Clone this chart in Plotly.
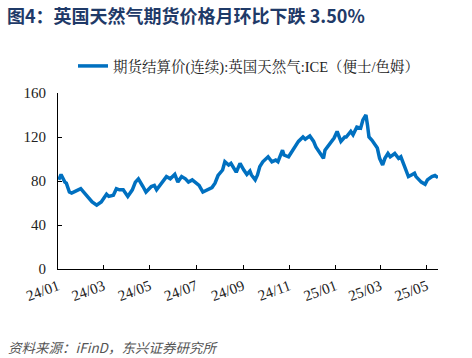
import plotly.graph_objects as go

dates = [
    "2024-01-02", "2024-01-05", "2024-01-10", "2024-01-12", "2024-01-16", "2024-01-19",
    "2024-01-25", "2024-01-31", "2024-02-05", "2024-02-09", "2024-02-15", "2024-02-21",
    "2024-02-27", "2024-03-05", "2024-03-08", "2024-03-14", "2024-03-18", "2024-03-22",
    "2024-03-27", "2024-04-02", "2024-04-08", "2024-04-12", "2024-04-16", "2024-04-22",
    "2024-04-26", "2024-05-03", "2024-05-07", "2024-05-10", "2024-05-17", "2024-05-23",
    "2024-05-28", "2024-06-03", "2024-06-07", "2024-06-12", "2024-06-17", "2024-06-21",
    "2024-06-26", "2024-07-02", "2024-07-05", "2024-07-10", "2024-07-16", "2024-07-22",
    "2024-07-26", "2024-07-30", "2024-08-05", "2024-08-08", "2024-08-13", "2024-08-16",
    "2024-08-23", "2024-08-28", "2024-09-02", "2024-09-06", "2024-09-10", "2024-09-12",
    "2024-09-17", "2024-09-20", "2024-09-23", "2024-09-27", "2024-10-04", "2024-10-09",
    "2024-10-14", "2024-10-17", "2024-10-23", "2024-10-25", "2024-10-31", "2024-11-06",
    "2024-11-13", "2024-11-19", "2024-11-22", "2024-11-28", "2024-12-03", "2024-12-06",
    "2024-12-12", "2024-12-16", "2024-12-18", "2024-12-24", "2024-12-30", "2025-01-03",
    "2025-01-08", "2025-01-13", "2025-01-15", "2025-01-21", "2025-01-24", "2025-01-29",
    "2025-02-03", "2025-02-06", "2025-02-10", "2025-02-12", "2025-02-14", "2025-02-18",
    "2025-02-21", "2025-02-25", "2025-02-28", "2025-03-04", "2025-03-07", "2025-03-11",
    "2025-03-14", "2025-03-20", "2025-03-25", "2025-03-28", "2025-04-02", "2025-04-07",
    "2025-04-11", "2025-04-15", "2025-04-17", "2025-04-24", "2025-04-29", "2025-05-02",
    "2025-05-08", "2025-05-12", "2025-05-16",
]
prices = [
    81, 86, 79, 78, 70, 69,
    71, 73, 69, 66, 61, 58,
    61, 68, 66, 67, 73, 72,
    72, 66, 72, 79, 82, 75,
    70, 75, 76, 72, 78, 84,
    82, 86, 79, 84, 82, 79,
    81, 78, 76, 70, 72, 74,
    78, 85, 90, 97.5, 94.5, 96,
    88, 96, 90, 86, 89, 85.5,
    81, 85.5, 93, 97.5, 102, 97.5,
    99, 97.5, 108, 103.6, 102, 108,
    116, 120, 118, 121, 116, 111,
    105, 100.6, 108, 114, 119, 125,
    116, 120, 120, 125, 122, 129,
    128, 135.5, 140, 131, 120, 117,
    114, 110, 100.6, 94.5, 100.6, 105,
    102, 105, 100.6, 102, 93, 84,
    85.5, 87, 84, 79, 77, 81,
    84, 85, 83,
]

tick_vals = ["2024-01-01", "2024-03-01", "2024-05-01", "2024-07-01", "2024-09-01",
             "2024-11-01", "2025-01-01", "2025-03-01", "2025-05-01"]
tick_text = ["24/01", "24/03", "24/05", "24/07", "24/09", "24/11", "25/01", "25/03", "25/05"]
y_ticks = [0, 40, 80, 120, 160]

series_name = "期货结算价(连续):英国天然气:ICE（便士/色姆）"
title_text = "图4：英国天然气期货价格月环比下跌 3.50%"
source_text = "资料来源：iFinD，东兴证券研究所"

W, H = 472, 358
L, R, T, B = 58, 34, 93, 89
pw = W - L - R
ph = H - T - B

serif = "Liberation Serif, 'Times New Roman', 'Noto Serif CJK SC', 'Noto Sans CJK SC', serif"

fig = go.Figure()
fig.add_trace(go.Scatter(
    x=dates, y=prices, mode="lines", name=series_name,
    line=dict(color="#0070C0", width=3.5),
))

fig.update_layout(
    width=W, height=H,
    margin=dict(l=L, r=R, t=T, b=B, pad=0),
    paper_bgcolor="white", plot_bgcolor="white",
    showlegend=True,
    legend=dict(
        orientation="h",
        x=(73 - L) / pw, xanchor="left",
        y=(H - B - 66) / ph, yanchor="middle",
        font=dict(family=serif, size=14.5, color="#222222"),
        bgcolor="rgba(0,0,0,0)",
    ),
    xaxis=dict(
        type="date",
        range=["2024-01-01", "2025-05-16"],
        tickmode="array", tickvals=tick_vals, ticktext=tick_text,
        tickangle=-20,
        ticks="inside", ticklen=4, tickcolor="#000000",
        showline=True, linecolor="#000000", linewidth=1,
        showgrid=False, zeroline=False,
        tickfont=dict(family=serif, size=15, color="#222222"),
        ticklabelstandoff=2,
    ),
    yaxis=dict(
        range=[0, 160],
        tickmode="array", tickvals=y_ticks,
        ticks="inside", ticklen=4, tickcolor="#000000",
        showline=True, linecolor="#000000", linewidth=1,
        showgrid=False, zeroline=False,
        tickfont=dict(family=serif, size=15, color="#222222"),
        ticklabelstandoff=8,
    ),
    annotations=[
        dict(text=title_text, xref="paper", yref="paper",
             x=(5 - L) / pw, y=(H - B - 15) / ph, xanchor="left", yanchor="middle",
             showarrow=False,
             font=dict(family="'Noto Sans CJK SC', 'Liberation Sans', sans-serif",
                       size=18, color="#1F3A68", weight="bold")),
        dict(text="<i>" + source_text + "</i>", xref="paper", yref="paper",
             x=(6 - L) / pw, y=(H - B - 347) / ph, xanchor="left", yanchor="middle",
             showarrow=False,
             font=dict(family="'Noto Sans CJK SC', 'Liberation Sans', sans-serif",
                       size=13.5, color="#555555")),
    ],
)

fig.write_html(
    "out.html",
    config={"displayModeBar": False},
    post_script="document.body.style.margin='0';document.body.style.padding='0';",
)
